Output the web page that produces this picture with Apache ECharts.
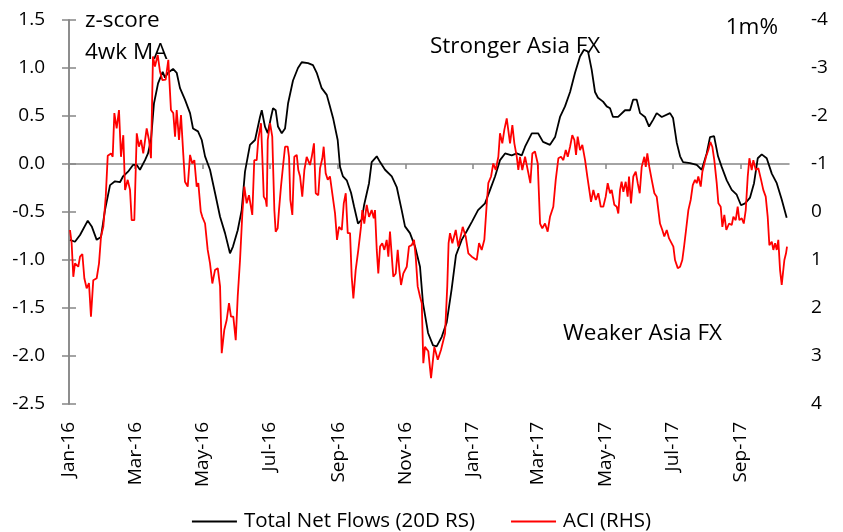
<!DOCTYPE html>
<html><head><meta charset="utf-8">
<script src="https://cdn.jsdelivr.net/npm/echarts@6/dist/echarts.min.js"></script>
<style>html,body{margin:0;padding:0;background:#fff}#c{width:843px;height:532px}</style>
</head><body><div id="c"></div>
<script>
// Days since 1 Jan 2016
const blackDay = [
0.9,5.4,10,17,20.6,25.1,29,32.6,37.2,41.7,
46.2,48.9,53.5,58,61.4,64.3,68.9,71.6,74.3,77,
80.7,84.9,87,89.7,94.3,97.6,100.6,105.1,109.7,112.4,
116.9,120.3,123.3,127.8,132.3,136.9,141.4,145.9,148.6,152.9,
156.5,159.5,164,168.6,173.1,174.7,177.6,180.1,183.1,184.9,
187.3,189.4,192.8,195.8,198.5,203,207.5,210.9,216.6,221.1,
224.5,229,233.6,236.5,239.3,243.5,245.6,248.3,251.7,255.6,
258.3,261.9,265.3,267.4,271.9,274.3,278.9,281.9,286.4,292.5,
297,301.5,304.5,309,313.6,318.1,320.8,325.4,329.9,333.2,
337.8,342.3,346.8,350.7,355.9,360.4,365.2,370.7,377,381.6,
386.1,390.6,395.2,401.2,405.8,410.3,413.3,419.4,425.1,429.6,
435.9,440.5,445,449.5,454.1,458.6,463.1,466.7,470.4,473.7,
476.7,479.4,484,487.3,490.3,493,497.6,503.9,508.4,511.2,
514.5,517.5,522,525.7,529.3,532.6,537.2,544.7,547.4,550.8,
553.8,556.5,562.8,568.9,573.4,577.9,580.9,584.6,588.2,591.5,
596.1,600.6,605.1,609,612.7,617.2,620.8,624.2,627.8,632.3,
636.9,641.4,645.9,650.4];
// Total Net Flows (20D RS), z-score, left axis
const blackVal = [
-0.79,-0.81,-0.74,-0.59,-0.65,-0.79,-0.76,-0.48,-0.22,-0.18,
-0.19,-0.13,-0.08,-0.01,-0.01,-0.06,0.04,0.11,0.25,0.63,
0.84,0.96,0.90,0.95,0.99,0.95,0.79,0.67,0.53,0.37,
0.34,0.25,0.08,-0.06,-0.30,-0.55,-0.72,-0.93,-0.86,-0.69,
-0.48,-0.08,0.20,0.25,0.49,0.56,0.39,0.32,0.49,0.58,
0.56,0.39,0.32,0.37,0.63,0.87,1.00,1.06,1.05,1.03,
0.95,0.79,0.72,0.60,0.48,0.25,-0.03,-0.13,-0.17,-0.30,
-0.44,-0.62,-0.58,-0.43,-0.20,0.02,0.08,0.02,-0.06,-0.13,
-0.24,-0.48,-0.65,-0.72,-0.86,-1.07,-1.45,-1.76,-1.89,-1.90,
-1.80,-1.65,-1.30,-0.95,-0.79,-0.70,-0.60,-0.48,-0.41,-0.27,
-0.13,0.04,0.11,0.09,0.11,0.09,0.18,0.32,0.32,0.23,
0.20,0.28,0.49,0.60,0.75,0.95,1.12,1.19,1.17,0.98,
0.75,0.69,0.65,0.60,0.58,0.49,0.49,0.56,0.56,0.67,
0.67,0.53,0.49,0.39,0.46,0.53,0.49,0.53,0.48,0.22,
0.08,0.02,0.01,-0.01,-0.06,0.11,0.28,0.29,0.08,-0.03,
-0.17,-0.27,-0.32,-0.43,-0.41,-0.35,-0.20,0.06,0.10,0.06,
-0.10,-0.20,-0.37,-0.56];
const redDay = [
0.9,2.4,3.9,5.4,8.4,10.0,12.1,13.9,16.0,18.1,
19.9,22.0,25.1,27.2,29.0,31.1,33.3,35.1,38.1,39.6,
41.1,43.2,45.3,47.1,49.2,50.8,53.2,55.3,56.8,59.2,
61.4,63.4,65.3,67.3,70.4,72.5,74.3,76.1,77.9,80.4,
82.5,84.6,87.6,90.0,91.5,92.4,94.5,96.1,97.6,99.7,
101.5,103.6,105.1,107.6,109.7,111.7,113.6,115.7,117.2,119.4,
120.8,123.3,125.7,127.8,129.9,132.3,134.8,136.9,138.4,140.7,
142.9,145.0,146.8,148.9,151.1,152.9,155.0,157.1,158.9,161.0,
163.1,166.1,167.9,170.1,171.6,173.1,174.0,175.2,176.5,178.3,
179.2,180.1,182.2,184.2,186.1,187.3,189.1,190.3,192.1,194.2,
195.8,198.2,199.4,200.6,202.4,204.2,206.4,207.8,209.4,211.4,
213.3,215.4,218.4,220.0,222.0,223.6,225.9,227.5,229.6,230.8,
232.6,234.5,236.5,238.6,241.1,242.9,244.7,247.2,249.0,250.8,
252.6,254.7,256.2,257.7,259.8,262.2,264.6,265.8,267.6,269.8,
271.9,274.3,276.2,277.3,278.9,280.3,281.9,283.9,285.8,287.9,
289.4,290.9,292.5,293.9,296.1,297.9,299.4,300.9,303.0,306.1,
308.1,310.6,312.7,314.2,316.0,318.1,319.7,321.1,322.6,325.6,
328.1,331.1,334.2,337.1,340.8,342.8,344.0,345.3,347.4,350.5,
352.8,355.9,356.8,359.5,361.9,365.0,369.5,371.6,374.0,376.4,
378.6,380.0,382.5,384.5,386.7,389.1,390.6,392.7,394.5,396.7,
398.1,399.7,401.8,403.6,405.8,407.2,408.7,410.8,413.3,416.3,
418.1,419.9,422.3,424.8,426.9,428.9,431.4,433.8,435.9,438.9,
441.1,443.5,445.9,448.0,450.2,452.0,454.1,456.1,458.0,459.5,
461.0,463.1,465.2,467.7,469.7,471.3,473.1,475.2,477.4,479.7,
481.9,484.2,486.4,488.2,490.3,491.8,494.2,496.4,497.8,499.4,
500.8,502.4,504.5,506.3,507.5,509.3,511.4,513.6,515.4,517.2,
519.0,521.4,522.7,524.1,525.9,528.1,530.5,532.6,534.1,535.6,
537.7,539.5,541.7,543.8,545.6,547.7,549.2,551.7,553.8,555.8,
557.4,559.2,561.3,563.4,565.3,567.3,568.9,570.3,572.5,574.0,
575.5,577.3,579.4,581.2,583.0,584.8,587.0,588.5,590.6,592.1,
593.9,595.7,598.2,600.6,602.1,604.2,606.0,607.5,609.7,611.5,
613.3,615.1,616.6,618.7,620.2,622.4,624.7,627.2,629.2,631.4,
633.2,634.7,636.9,638.3,639.9,641.4,642.8,644.4,645.9,647.4,
648.3,649.8,650.7];
// ACI (RHS), 1m %, right axis (inverted)
const redVal = [
0.375,0.65,1.35,1.07,1.14,0.93,0.875,1.38,1.59,1.48,
2.18,1.42,1.38,1.07,0.51,0.31,-0.32,-1.17,-1.22,-1.15,
-2.06,-1.74,-2.125,-1.15,-1.60,-0.46,-0.67,-0.46,0.17,0.17,
-1.64,-1.36,-1.50,-1.22,-1.74,-1.50,-1.12,-3.24,-3.03,-3.27,
-2.92,-2.75,-2.76,-3.17,-3.17,-2.125,-2.06,-1.57,-2.125,-1.50,
-2.02,-1.19,-0.63,-0.53,-1.19,-1.01,-1.08,-0.53,-0.60,-0.01,
0.10,0.24,0.79,1.07,1.49,1.21,1.17,1.55,2.94,2.46,
2.25,1.90,2.18,2.18,2.67,1.76,1.00,0.03,-0.53,-0.18,
-0.35,0.06,-1.08,-1.08,-1.53,-1.57,-1.85,-1.15,-0.32,-0.25,
-0.11,-1.50,-1.85,-1.57,-0.04,0.41,0.34,-0.04,-0.53,-1.01,
-1.36,-1.36,-1.15,-0.25,0.06,-1.15,-1.19,-0.875,-0.74,-0.32,
-0.875,-1.15,-0.98,-1.15,-1.43,-0.39,-0.35,-0.91,-1.12,-1.36,
-0.81,-0.67,-0.74,-0.39,0.03,0.58,0.31,0.375,-0.18,-0.39,
0.44,0.44,1.35,1.80,1.21,0.79,0.31,-0.04,0.24,-0.15,
0.10,-0.04,0.13,-0.04,0.79,1.28,0.72,0.65,0.79,0.58,
0.93,0.41,0.375,1.35,1.28,0.79,1.21,1.52,1.28,1.14,
0.72,0.69,0.58,0.93,1.55,1.76,1.90,3.15,2.81,2.90,
3.46,2.81,3.08,2.875,2.53,1.55,0.65,0.44,0.65,0.375,
0.72,0.41,0.31,0.51,0.86,0.93,1.00,0.65,0.79,0.58,
-0.18,-0.60,-0.74,-1.01,-0.875,-1.15,-1.64,-1.43,-1.71,-1.95,
-1.99,-1.43,-1.81,-1.43,-1.15,-0.875,-1.15,-0.875,-1.15,-0.81,
-0.60,-1.22,-1.26,-1.01,0.24,0.34,0.24,0.41,0.10,-0.11,
-0.67,-1.12,-1.15,-1.08,-1.29,-1.15,-1.36,-1.60,-1.50,-1.19,
-1.57,-1.29,-1.40,-1.08,-0.74,-0.74,-0.21,-0.46,-0.25,-0.39,
-0.11,-0.11,-0.32,-0.60,-0.39,-0.46,-0.15,-0.11,0.03,-0.46,
-0.63,-0.42,-0.63,-0.32,-0.74,-0.18,-0.74,-0.84,-0.60,-0.39,
-0.94,-1.15,-0.94,-1.22,-0.94,-0.67,-0.39,-0.32,-0.04,0.24,
0.375,0.51,0.375,0.55,0.51,0.72,1.00,1.17,1.14,1.00,
0.72,0.375,-0.04,-0.25,-0.56,-0.67,-0.60,-0.74,-0.53,-0.84,
-0.98,-1.15,-1.29,-1.46,-1.36,-1.08,-0.60,-0.18,-0.11,0.31,
0.06,0.375,0.24,0.27,0.10,0.17,-0.11,0.17,0.13,0.24,
-0.04,-0.74,-1.12,-0.875,-1.08,-0.875,-0.91,-0.67,-0.46,-0.32,
0.10,0.69,0.62,0.79,0.65,0.79,0.58,1.21,1.52,1.49,
1.00,0.86,0.72];
const tickMonths = [[2016,0],[2016,2],[2016,4],[2016,6],[2016,8],[2016,10],[2017,0],[2017,2],[2017,4],[2017,6],[2017,8]];
const tickLabels = ['Jan-16','Mar-16','May-16','Jul-16','Sep-16','Nov-16','Jan-17','Mar-17','May-17','Jul-17','Sep-17'];
const leftTicks = {min:-2.5, max:1.5, step:0.5};
const rightTicks = {min:-4, max:4, step:1};
const xEndDay = 652.5;

const DAY = 86400000;
const T0 = Date.UTC(2016,0,1);
const tickDays = tickMonths.map(m => Math.round((Date.UTC(m[0], m[1], 1) - T0) / DAY));
const FONT = 'Open Sans';
const AX = '#868686';
const ANN = '22.5px "Open Sans"';

const chart = echarts.init(document.getElementById('c'), null, {renderer:'canvas'});
chart.setOption({
  animation:false,
  backgroundColor:'#fff',
  textStyle:{fontFamily:FONT},
  grid:{left:69, right:54, top:20, bottom:128},
  xAxis:[{
    type:'value', min:0, max:xEndDay, position:'bottom',
    axisLine:{show:false, onZero:false}, axisTick:{show:false}, splitLine:{show:false},
    axisLabel:{customValues:tickDays, rotate:90, margin:18, fontSize:19, fontFamily:FONT, color:'#000',
      padding:[8,0,0,0],
      formatter:v => { const i = tickDays.indexOf(v); return i >= 0 ? tickLabels[i] : ''; }}
  },{
    type:'value', min:0, max:xEndDay, position:'bottom',
    axisLine:{show:true, onZero:true, onZeroAxisIndex:0, lineStyle:{color:AX, width:1.5}},
    axisTick:{show:true, customValues:tickDays, length:5, lineStyle:{color:AX, width:1.5}},
    axisLabel:{show:false}, splitLine:{show:false}
  }],
  yAxis:[{
    type:'value', min:leftTicks.min, max:leftTicks.max, interval:leftTicks.step, position:'left',
    axisLine:{show:true, lineStyle:{color:AX, width:1.5}},
    axisTick:{show:true, length:7, lineStyle:{color:AX, width:1.5}},
    splitLine:{show:false},
    axisLabel:{margin:24, fontSize:19, fontFamily:FONT, color:'#000', formatter:v => v.toFixed(1)}
  },{
    type:'value', min:rightTicks.min, max:rightTicks.max, interval:rightTicks.step, position:'right', inverse:true,
    axisLine:{show:true, lineStyle:{color:AX, width:1.5}},
    axisTick:{show:true, length:7, lineStyle:{color:AX, width:1.5}},
    splitLine:{show:false},
    axisLabel:{margin:22, fontSize:19, fontFamily:FONT, color:'#000'}
  }],
  legend:{
    top:506, left:'center', icon:'rect', itemWidth:45, itemHeight:1.8, itemGap:36,
    textStyle:{fontSize:20.5, fontFamily:FONT, color:'#000', padding:[0,0,0,2]},
    data:['Total Net Flows (20D RS)','ACI (RHS)']
  },
  graphic:[
    {type:'text', left:85, top:9, style:{text:'z-score', font:ANN, fill:'#000'}},
    {type:'text', left:85, top:41, style:{text:'4wk MA', font:ANN, fill:'#000'}},
    {type:'text', right:65, top:16, style:{text:'1m%', font:ANN, fill:'#000'}},
    {type:'text', left:430, top:35, style:{text:'Stronger Asia FX', font:ANN, fill:'#000'}},
    {type:'text', left:563, top:322, style:{text:'Weaker Asia FX', font:ANN, fill:'#000'}}
  ],
  series:[{
    name:'Total Net Flows (20D RS)', type:'line', xAxisIndex:0, yAxisIndex:0,
    showSymbol:false, symbol:'none', lineStyle:{color:'#000', width:1.8}, itemStyle:{color:'#000'},
    data: blackDay.map((d,i) => [d, blackVal[i]])
  },{
    name:'ACI (RHS)', type:'line', xAxisIndex:0, yAxisIndex:1,
    showSymbol:false, symbol:'none', lineStyle:{color:'#ff0000', width:1.8}, itemStyle:{color:'#ff0000'},
    data: redDay.map((d,i) => [d, redVal[i]])
  }]
});
</script></body></html>
